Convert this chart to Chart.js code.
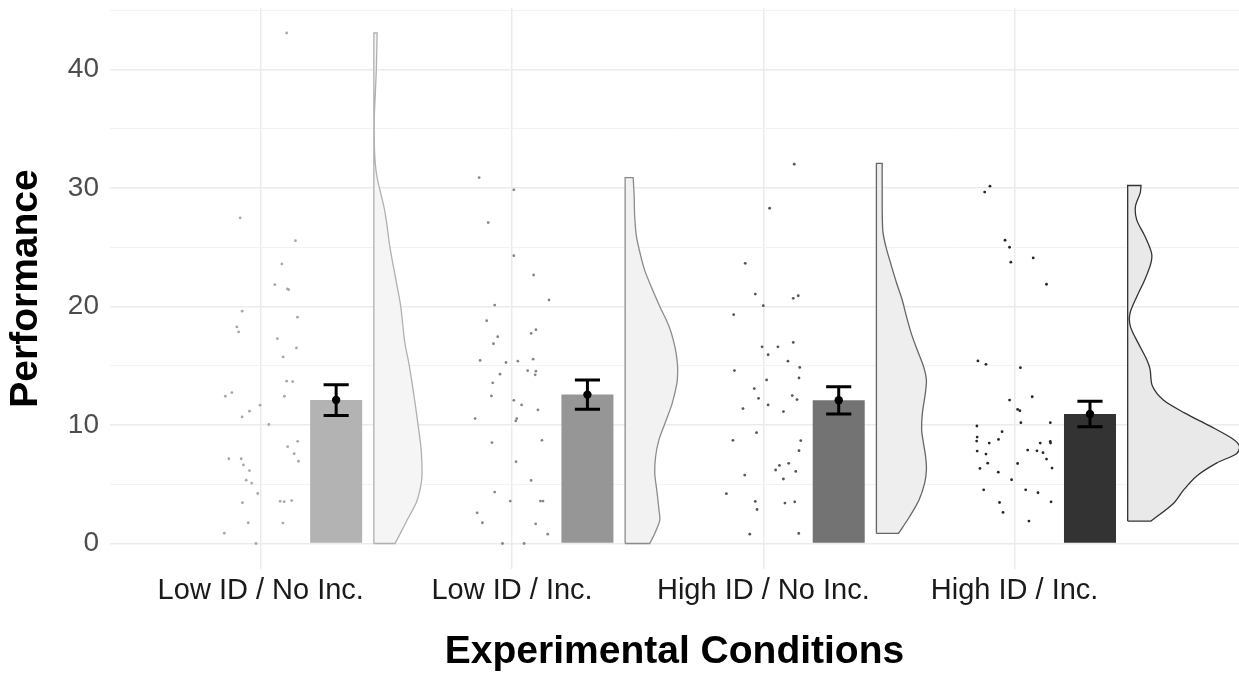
<!DOCTYPE html>
<html>
<head>
<meta charset="utf-8">
<script src="https://cdn.jsdelivr.net/npm/chart.js@4.4.1/dist/chart.umd.min.js"></script>
<style>
  html, body { margin: 0; padding: 0; background: #fff; }
  canvas { display: block; }
</style>
</head>
<body>
<canvas id="chart" width="1239" height="673"></canvas>
<script>
// Raincloud plot: jittered raw scores, mean bar + SE, half violin
const conditions = ['Low ID / No Inc.', 'Low ID / Inc.', 'High ID / No Inc.', 'High ID / Inc.'];
const means = [12.1, 12.56, 12.08, 10.92];
const stdErrors = [1.3, 1.24, 1.15, 1.08];

const xTicks = [1, 2, 3, 4];
const yTicks = [0, 5, 10, 15, 20, 25, 30, 35, 40, 45];

// raw scores and their horizontal jitter (in category units)
const lowNoIncScores = [43.06, 27.47, 25.54, 23.58, 21.83, 21.47, 21.41, 19.60, 19.09, 18.27, 17.85, 17.28, 16.50, 15.74, 13.69, 13.66, 12.42, 12.42, 12.73, 11.67, 11.16, 10.68, 10.04, 8.62, 8.17, 7.57, 6.94, 7.15, 7.15, 6.63, 6.15, 5.34, 5.10, 4.22, 3.44, 3.56, 3.53, 3.62, 1.75, 1.72, 0.87, 0.0];
const lowNoIncJitter = [0.103, -0.082, 0.138, 0.084, 0.056, 0.106, 0.111, -0.074, 0.146, -0.095, -0.088, 0.066, 0.142, 0.089, 0.103, 0.127, 0.094, -0.141, -0.115, -0.003, -0.045, -0.074, 0.032, 0.147, 0.107, 0.133, 0.150, -0.127, -0.078, -0.069, -0.045, -0.058, -0.036, -0.012, -0.073, 0.077, 0.093, 0.123, -0.050, 0.088, -0.145, -0.019];

const lowIncScores = [30.87, 29.83, 27.07, 24.28, 22.65, 20.54, 20.11, 18.79, 18.03, 17.72, 17.44, 16.85, 15.44, 15.27, 15.38, 15.55, 14.59, 14.54, 14.23, 14.28, 13.55, 12.45, 12.08, 11.69, 10.54, 10.54, 10.34, 11.27, 8.51, 8.70, 6.90, 5.32, 4.34, 3.58, 3.58, 3.58, 2.59, 1.75, 1.66, 0.79, 0.0, 0.0];
const lowIncJitter = [-0.131, 0.007, -0.095, 0.007, 0.086, 0.147, -0.069, -0.101, 0.095, 0.076, -0.057, -0.074, -0.127, -0.024, 0.023, 0.084, 0.062, 0.095, 0.092, -0.048, -0.077, -0.082, 0.007, 0.038, -0.147, 0.019, 0.015, 0.103, -0.080, 0.119, 0.016, 0.076, -0.069, -0.007, 0.113, 0.123, -0.139, -0.118, 0.094, 0.142, -0.038, 0.048];

const highNoIncScores = [32.0, 28.28, 23.63, 21.04, 20.90, 20.68, 20.06, 19.30, 16.59, 16.59, 16.96, 15.92, 15.38, 14.85, 14.59, 13.97, 13.80, 13.07, 12.25, 12.48, 12.14, 11.69, 11.38, 11.13, 9.35, 8.70, 8.68, 7.83, 6.76, 6.59, 6.20, 6.08, 5.77, 5.44, 4.20, 3.55, 2.87, 3.41, 3.52, 0.79, 0.85];
const highNoIncJitter = [0.123, 0.025, -0.072, -0.032, 0.139, 0.119, 0.0, -0.118, -0.005, 0.058, 0.119, 0.019, 0.098, 0.145, -0.115, 0.142, 0.013, -0.036, -0.019, 0.115, 0.134, 0.019, -0.081, 0.080, -0.027, -0.121, 0.149, 0.142, 0.101, 0.064, 0.049, 0.129, -0.074, 0.080, -0.147, -0.032, -0.025, 0.086, 0.125, -0.054, 0.141];

const highIncScores = [30.14, 29.64, 25.58, 24.99, 24.09, 23.73, 21.87, 15.40, 15.11, 14.83, 12.10, 12.38, 11.31, 11.20, 10.19, 10.19, 9.91, 9.43, 8.98, 8.78, 8.64, 8.47, 8.47, 8.61, 8.47, 7.88, 7.82, 7.66, 7.80, 7.54, 7.12, 6.78, 6.75, 6.33, 6.36, 6.02, 5.38, 4.53, 4.53, 4.28, 3.52, 3.46, 2.62, 1.89];
const highIncJitter = [-0.098, -0.119, -0.038, -0.020, 0.074, -0.015, 0.127, -0.146, -0.114, 0.023, -0.020, 0.070, 0.012, 0.021, 0.025, 0.142, -0.150, -0.050, -0.149, -0.064, -0.151, -0.101, 0.102, 0.142, 0.143, 0.052, 0.089, 0.113, -0.149, -0.114, 0.127, -0.107, 0.012, -0.138, 0.149, -0.065, -0.012, -0.123, 0.044, 0.093, 0.145, -0.060, -0.046, 0.057];

// violin outlines: score level (top to bottom) and half-width (category units)
const lowNoIncViolinY = [43.06, 40, 38, 36, 33, 31, 28, 25, 22, 20, 17, 15, 12, 10, 8, 6, 5, 3.5, 2, 1, 0];
const lowNoIncViolinW = [0.013, 0.010, 0.006, 0.002, 0.003, 0.012, 0.044, 0.064, 0.090, 0.107, 0.123, 0.141, 0.163, 0.176, 0.188, 0.192, 0.188, 0.170, 0.133, 0.109, 0.084];

const lowIncViolinY = [30.87, 29.3, 27.6, 25.9, 24.8, 23.1, 21.4, 20.0, 18.3, 16.6, 15.2, 14.4, 13.5, 11.8, 10.1, 8.7, 7.3, 5.9, 4.5, 2.8, 1.97, 0.85, 0];
const lowIncViolinW = [0.032, 0.036, 0.038, 0.045, 0.056, 0.077, 0.109, 0.138, 0.175, 0.198, 0.208, 0.209, 0.206, 0.187, 0.158, 0.134, 0.121, 0.118, 0.126, 0.135, 0.138, 0.118, 0.098];

const highNoIncViolinY = [32.06, 30.4, 26.5, 25.1, 23.4, 22.0, 20.6, 19.2, 17.7, 16.3, 14.9, 13.8, 12.7, 11.0, 9.6, 8.5, 7.3, 6.2, 5.1, 3.7, 2.3, 0.85];
const highNoIncViolinW = [0.023, 0.023, 0.025, 0.037, 0.060, 0.080, 0.102, 0.119, 0.139, 0.163, 0.188, 0.199, 0.195, 0.183, 0.180, 0.187, 0.196, 0.199, 0.192, 0.170, 0.133, 0.088];

const highIncViolinY = [30.2, 29.58, 28.45, 27.3, 25.9, 24.5, 23.7, 22.3, 20.9, 19.4, 18.3, 16.9, 15.5, 14.7, 13.3, 12.1, 11.0, 9.9, 8.8, 8.2, 7.6, 6.8, 5.7, 4.5, 3.4, 1.89];
const highIncViolinW = [0.053, 0.050, 0.031, 0.036, 0.069, 0.095, 0.093, 0.069, 0.038, 0.009, 0.011, 0.042, 0.076, 0.089, 0.098, 0.142, 0.228, 0.328, 0.420, 0.445, 0.434, 0.355, 0.275, 0.222, 0.183, 0.093];

const allScores = [lowNoIncScores, lowIncScores, highNoIncScores, highIncScores];
const allJitter = [lowNoIncJitter, lowIncJitter, highNoIncJitter, highIncJitter];
const allViolinY = [lowNoIncViolinY, lowIncViolinY, highNoIncViolinY, highIncViolinY];
const allViolinW = [lowNoIncViolinW, lowIncViolinW, highNoIncViolinW, highIncViolinW];

const BAR_COLORS = ['#b3b3b3', '#969696', '#737373', '#333333'];
const POINT_COLORS = ['#a8a8a8', '#868686', '#555555', '#262626'];
const VIOLIN_LINE = ['#b0b0b0', '#8c8c8c', '#666666', '#333333'];
const VIOLIN_FILL = ['#f5f5f5', '#f2f2f2', '#eeeeee', '#e9e9e9'];
const FONT = "'Liberation Sans', Arial, sans-serif";

const BAR_SHIFT = 0.3;
const VIOLIN_SHIFT = 0.45;
const CAP = 0.05;

const datasets = [];

// half violins (corner points doubled so the smoothing keeps them sharp)
allViolinY.forEach((levels, i) => {
  const base = xTicks[i] + VIOLIN_SHIFT;
  const widths = allViolinW[i];
  const last = levels.length - 1;
  const bottom = { x: base, y: levels[last] };
  const top = { x: base, y: levels[0] };
  const pts = [bottom, top, top];
  levels.forEach((lv, k) => {
    const p = { x: base + widths[k], y: lv };
    pts.push(p);
    if (k === 0 || k === last) pts.push(p);
  });
  pts.push(bottom);
  datasets.push({
    type: 'line',
    data: pts,
    borderColor: VIOLIN_LINE[i],
    backgroundColor: VIOLIN_FILL[i],
    borderWidth: 1.3,
    fill: 'shape',
    tension: 0.3,
    pointRadius: 0,
    order: 5
  });
});

// jittered raw scores
allScores.forEach((scores, i) => {
  datasets.push({
    type: 'scatter',
    data: scores.map((s, k) => ({ x: xTicks[i] + allJitter[i][k], y: s })),
    backgroundColor: POINT_COLORS[i],
    borderWidth: 0,
    pointRadius: 1.4,
    order: 4
  });
});

// mean bars
datasets.push({
  type: 'bar',
  data: means.map((m, i) => ({ x: xTicks[i] + BAR_SHIFT, y: m })),
  backgroundColor: BAR_COLORS,
  borderWidth: 0,
  barPercentage: 0.207,
  categoryPercentage: 1,
  order: 3
});

// error bars (mean +/- SE)
const whiskers = [];
means.forEach((m, i) => {
  const cx = xTicks[i] + BAR_SHIFT;
  const hi = m + stdErrors[i], lo = m - stdErrors[i];
  whiskers.push({ x: cx - CAP, y: hi }, { x: cx + CAP, y: hi }, { x: cx, y: null },
    { x: cx, y: hi }, { x: cx, y: lo }, { x: cx, y: null },
    { x: cx - CAP, y: lo }, { x: cx + CAP, y: lo }, { x: cx, y: null });
});
datasets.push({
  type: 'line',
  data: whiskers,
  borderColor: '#000',
  borderWidth: 3,
  pointRadius: 0,
  fill: false,
  spanGaps: false,
  tension: 0,
  order: 2
});

// mean points
datasets.push({
  type: 'scatter',
  data: means.map((m, i) => ({ x: xTicks[i] + BAR_SHIFT, y: m })),
  backgroundColor: '#000',
  borderWidth: 0,
  pointRadius: 4.2,
  order: 1
});

new Chart(document.getElementById('chart'), {
  type: 'scatter',
  data: { datasets },
  options: {
    responsive: false,
    animation: false,
    layout: { autoPadding: false, padding: { top: 8, right: 0, bottom: 0, left: 0 } },
    plugins: { legend: { display: false }, tooltip: { enabled: false } },
    scales: {
      x: {
        type: 'linear',
        min: 0.4,
        max: 4.893,
        offset: false,
        afterBuildTicks: s => { s.ticks = xTicks.map(v => ({ value: v })); },
        afterFit: s => { s.height = 104; s.paddingLeft = 0; s.paddingRight = 0; },
        border: { display: false },
        grid: { offset: false, color: '#ebebeb', lineWidth: 1.5, drawTicks: false },
        ticks: {
          padding: 5,
          color: '#1a1a1a',
          autoSkip: false,
          maxRotation: 0,
          font: { family: FONT, size: 29 },
          callback: v => conditions[xTicks.indexOf(v)]
        },
        title: {
          display: true,
          text: 'Experimental Conditions',
          color: '#000',
          padding: { top: 0, bottom: -3 },
          font: { family: FONT, size: 39, weight: 'bold' }
        }
      },
      y: {
        min: -2.15,
        max: 45.17,
        afterBuildTicks: s => { s.ticks = yTicks.map(v => ({ value: v })); },
        afterFit: s => { s.width = 110; s.paddingTop = 0; s.paddingBottom = 0; },
        border: { display: false },
        grid: {
          drawTicks: false,
          color: ctx => (ctx.tick && ctx.tick.value % 10 === 0) ? '#ebebeb' : '#f2f2f2',
          lineWidth: ctx => (ctx.tick && ctx.tick.value % 10 === 0) ? 1.5 : 1
        },
        ticks: {
          padding: 11,
          color: '#4d4d4d',
          font: { family: FONT, size: 28 },
          callback: v => (v % 10 === 0 ? String(v) : '')
        },
        title: {
          display: true,
          text: 'Performance',
          color: '#000',
          padding: { top: 3, bottom: 0 },
          font: { family: FONT, size: 39, weight: 'bold' }
        }
      }
    }
  }
});
</script>
</body>
</html>
